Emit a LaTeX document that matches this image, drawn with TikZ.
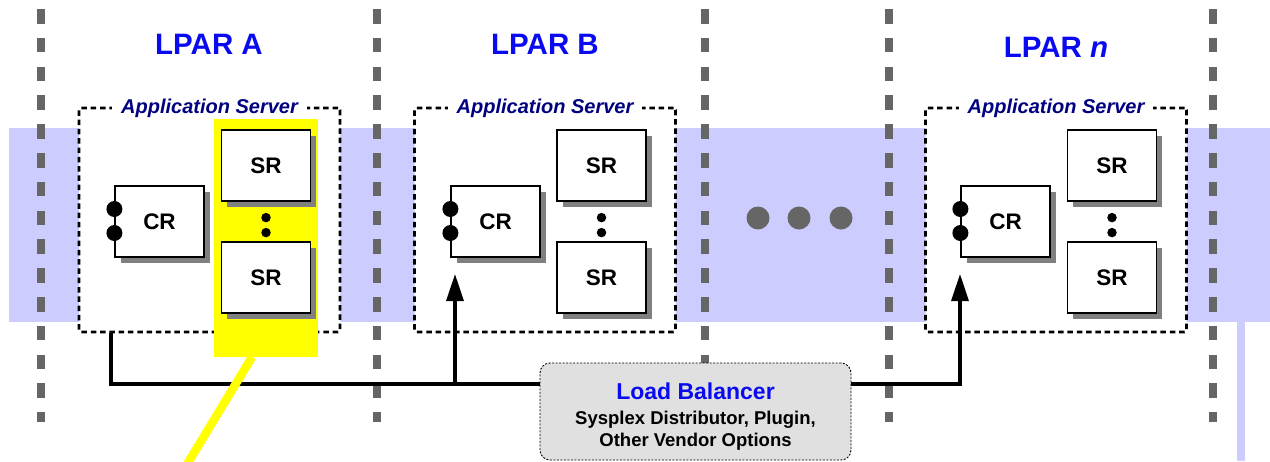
\documentclass[tikz,border=0pt]{standalone}
\usepackage{fontspec}
\setmainfont{Liberation Sans}
\usetikzlibrary{arrows.meta,shadows}

\definecolor{band}{HTML}{CCCCFF}
\definecolor{colgray}{HTML}{666666}
\definecolor{shade}{HTML}{808080}
\definecolor{navy}{HTML}{000080}
\definecolor{title}{HTML}{0A0AF0}
\definecolor{lbfill}{HTML}{E0E0E0}
\definecolor{hilite}{HTML}{FFFF00}

\begin{document}
\begin{tikzpicture}[x=1pt,y=-1pt,
  font=\bfseries,
  divider/.style={draw=colgray, line width=7.5pt, dash pattern=on 14.5pt off 14.3pt},
  server/.style={draw=black, line width=2.8pt, dash pattern=on 5.5pt off 3.8pt,
    fill=white, rounded corners=2pt, minimum width=261pt, minimum height=224pt, inner sep=0pt},
  srvlabel/.style={fill=white, text=navy, font=\fontsize{20}{24}\selectfont\bfseries\itshape,
    inner xsep=9pt, inner ysep=1pt, anchor=base},
  lpar/.style={text=title, font=\fontsize{29.5}{34}\selectfont\bfseries, inner sep=0pt},
  proc/.style={draw=black, line width=1.2pt, fill=white, minimum width=89pt, minimum height=71pt,
    inner sep=0pt, font=\fontsize{22.5}{26}\selectfont\bfseries,
    general shadow={fill=shade, shadow xshift=5.5pt, shadow yshift=-5.5pt}},
  port/.style={circle, fill=black, inner sep=0pt, minimum size=16pt},
  more/.style={circle, fill=black, inner sep=0pt, minimum size=9.5pt},
  gapdot/.style={circle, fill=colgray, inner sep=0pt, minimum size=23pt},
  bus/.style={draw=black, line width=3.2pt},
  feed/.style={bus, -{Triangle[length=27pt,width=17pt]}},
  lbbox/.style={draw=black, line width=0.9pt, dash pattern=on 2pt off 1.5pt, fill=lbfill,
    rounded corners=10pt, minimum width=311pt, minimum height=97pt, inner sep=0pt},
  lbhead/.style={anchor=base, text=title, font=\fontsize{23}{27}\selectfont\bfseries, inner sep=0pt},
  lbtext/.style={anchor=base, font=\fontsize{18.5}{22}\selectfont\bfseries, inner sep=0pt},
]
\useasboundingbox (0,0) rectangle (1270,461);

% shared lavender band and its drop line on the right
\fill[band] (9,128) rectangle (1270,322);
\fill[band] (1237,322) rectangle (1245,461);

% partition dividers
\foreach \cx/\nm in {41/d1,377/d2,705/d3,889/d4,1213/d5}{
  \coordinate (\nm top) at (\cx,9);
  \coordinate (\nm bot) at (\cx,422);
  \draw[divider] (\nm top) -- (\nm bot);
}

% application servers
\node[server] (appA) at (209.5,220) {};
\node[server] (appB) at (545,220) {};
\node[server] (appN) at (1056,220) {};

\node[srvlabel] (lblA) at (209.5,113) {Application Server};
\node[srvlabel] (lblB) at (545,113) {Application Server};
\node[srvlabel] (lblN) at (1056,113) {Application Server};

% highlighted servant regions
\node[fill=hilite, minimum width=104pt, minimum height=238pt, inner sep=0pt] (hl) at (266,238) {};

% control regions with their ports
\node[proc] (crA) at (159.5,221.5) {CR};
\node[proc] (crB) at (495.5,221.5) {CR};
\node[proc] (crN) at (1005.5,221.5) {CR};
\foreach \c in {crA,crB,crN}{
  \node[port] (\c p1) at ([yshift=12.5pt]\c.west) {};
  \node[port] (\c p2) at ([yshift=-11.5pt]\c.west) {};
}

% servant regions
\node[proc] (srA1) at (266,165.5) {SR};
\node[proc] (srA2) at (266,277.5) {SR};
\node[proc] (srB1) at (601.5,165.5) {SR};
\node[proc] (srB2) at (601.5,277.5) {SR};
\node[proc] (srN1) at (1112,165.5) {SR};
\node[proc] (srN2) at (1112,277.5) {SR};
\foreach \s in {srA1,srB1,srN1}{
  \node[more] (\s m1) at ([yshift=-16pt]\s.south) {};
  \node[more] (\s m2) at ([yshift=-31pt]\s.south) {};
}

% routing from the load balancer
\coordinate (busA) at (111,384);
\coordinate (busB) at (455,384);
\coordinate (busN) at (960,384);
\coordinate (tipB) at (455,274);
\coordinate (tipN) at (960,274);

\node[lbbox] (lb) at (695.5,411.5) {};
\draw[bus] (busA |- appA.south) -- (busA) -- (busA -| lb.west);
\draw[feed] (busB) -- (tipB);
\draw[feed] (busA -| lb.east) -- (busN) -- (tipN);

% pointer from the highlighted regions
\coordinate (hlfoot) at (252,357);
\coordinate (hlend) at (186,466);
\draw[hilite, line width=8.5pt] (hlfoot) -- (hlend);

\node[lbhead] (lbTitle) at (695.5,399) {Load Balancer};
\node[lbtext] (lbSub1) at (695.5,424) {Sysplex Distributor, Plugin,};
\node[lbtext] (lbSub2) at (695.5,446) {Other Vendor Options};

% further partitions
\node[gapdot] (g1) at (758,218) {};
\node[gapdot] (g2) at (799,218) {};
\node[gapdot] (g3) at (841,218) {};

% partition titles
\node[lpar] (tA) at (209,44) {LPAR A};
\node[lpar] (tB) at (545,44) {LPAR B};
\node[lpar] (tN) at (1056,47.5) {LPAR \textit{n}};
\end{tikzpicture}
\end{document}
